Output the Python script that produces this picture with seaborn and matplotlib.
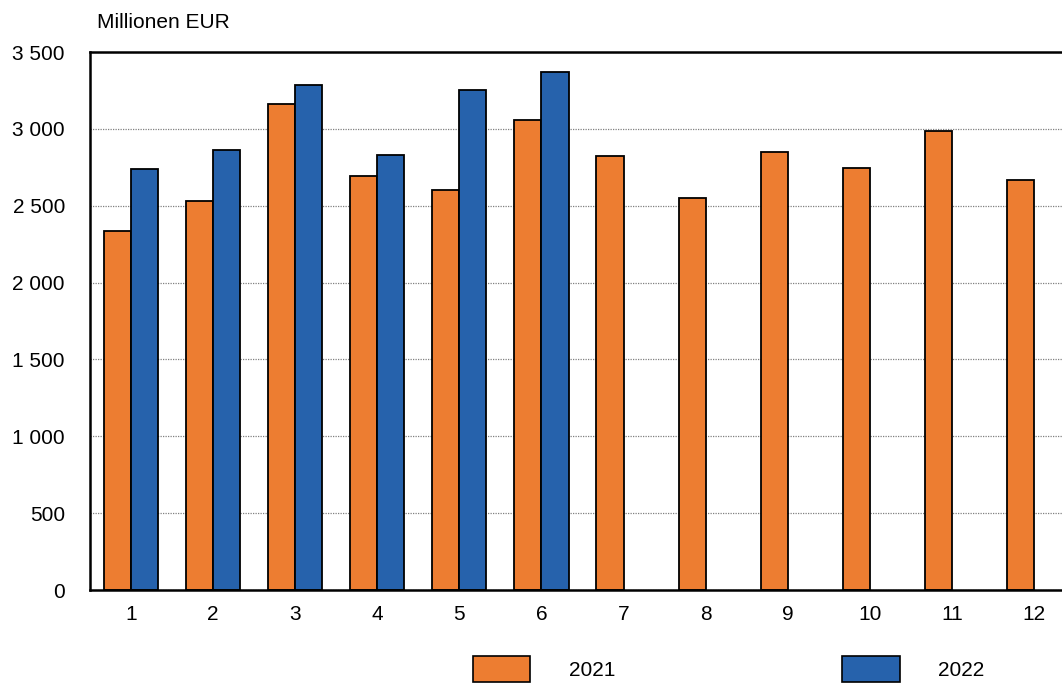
import seaborn as sns
import matplotlib.pyplot as plt
import matplotlib.patches as mpatches
from matplotlib.ticker import FuncFormatter, MultipleLocator
import pandas as pd
import numpy as np

# Werte in Millionen EUR
months = [str(m) for m in range(1, 13)]
values_2021 = [2335, 2531, 3162, 2693, 2602, 3058, 2823, 2550, 2849, 2745, 2986, 2667]
values_2022 = [2739, 2862, 3285, 2830, 3253, 3370, np.nan, np.nan, np.nan, np.nan, np.nan, np.nan]
years = ['2021', '2022']
colors = ['#ED7D31', '#2662AC']

df = pd.DataFrame({
    'Monat': months * 2,
    'Jahr': [years[0]] * 12 + [years[1]] * 12,
    'Wert': values_2021 + values_2022,
})

sns.set_style('white')
plt.rcParams['font.family'] = ['Liberation Sans', 'DejaVu Sans']
plt.rcParams['text.color'] = 'black'
fs = 15

fig = plt.figure(figsize=(10.62, 6.88), dpi=100)
ax = fig.add_axes([90 / 1062, 1 - 590 / 688, 985 / 1062, 538 / 688])

sns.barplot(data=df, x='Monat', y='Wert', hue='Jahr', palette=colors, ax=ax,
            width=0.66, gap=0, edgecolor='black', linewidth=1.3, saturation=1,
            legend=False, errorbar=None)

ax.set_ylim(0, 3500)
ax.set_xlim(-0.5, 11.5)
ax.yaxis.set_major_locator(MultipleLocator(500))
ax.yaxis.set_major_formatter(FuncFormatter(lambda v, p: f'{int(v):,}'.replace(',', ' ')))
ax.grid(axis='y', color='#808080', linestyle=(0, (1, 1)), linewidth=0.9)
ax.set_axisbelow(True)
ax.set_xlabel('')
ax.set_ylabel('')
ax.tick_params(axis='both', length=0, labelsize=fs, colors='black')
ax.tick_params(axis='x', pad=11)
ax.tick_params(axis='y', pad=18)
for s in ['left', 'bottom', 'top']:
    ax.spines[s].set_color('black')
    ax.spines[s].set_linewidth(1.8)
ax.spines['right'].set_visible(False)

fig.text(97 / 1062, 1 - 22 / 688, 'Millionen EUR', fontsize=fs, va='center', ha='left',
         color='black')

handles = [mpatches.Patch(facecolor=c, edgecolor='black', linewidth=1.2, label=y)
           for c, y in zip(colors, years)]
fig.legend(handles=handles, loc='upper left', bbox_to_anchor=(473 / 1062, 1 - 656 / 688),
           ncol=2, frameon=False, fontsize=fs, borderpad=0, borderaxespad=0,
           handlelength=2.75, handleheight=1.55, handletextpad=1.85, columnspacing=10.9,
           labelcolor='black')

fig.savefig('out.png', dpi=100)
